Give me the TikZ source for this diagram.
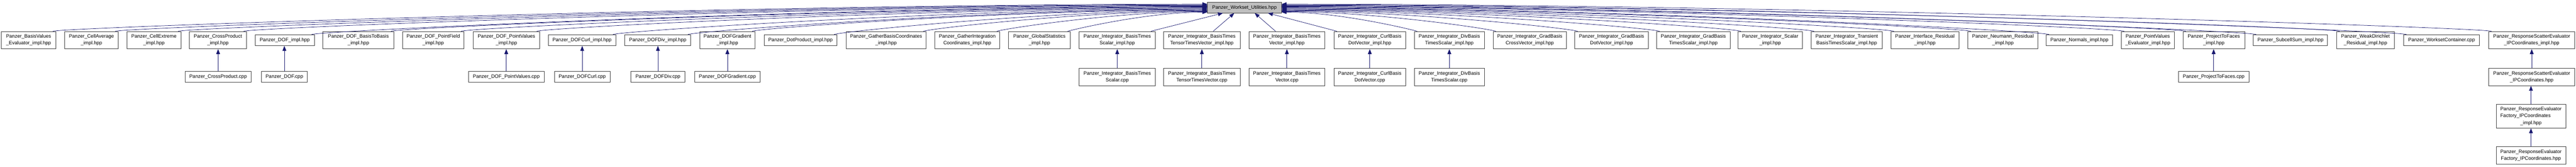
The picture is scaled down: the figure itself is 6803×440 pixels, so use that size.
\documentclass[tikz,border=0pt]{standalone}
\usepackage{fontspec}
\setmainfont{Liberation Sans}
\usetikzlibrary{arrows.meta}
\definecolor{edgeblue}{RGB}{25,25,112}
\definecolor{boxline}{RGB}{64,64,64}
\definecolor{rootfill}{RGB}{191,191,191}
\def\rowA{-106}
\def\rowB{-203}
\def\rowC{-306.5}
\def\rowD{-410.5}
\tikzset{
  filebox/.style={draw=boxline, line width=1.2pt, fill=white, inner sep=0pt,
    align=center, font=\fontsize{13}{18}\selectfont},
  oneline/.style={filebox, minimum height=29},
  twoline/.style={filebox, minimum height=46},
  threeline/.style={filebox, minimum height=63},
  rootbox/.style={filebox, fill=rootfill, minimum height=28},
  incl/.style={draw=edgeblue, line width=1pt, -{Triangle[length=13pt,width=10pt]}},
}

\begin{document}
\begin{tikzpicture}[x=1pt,y=1pt]
    \useasboundingbox (0,0) rectangle (6803,-440);
    \node[rootbox, minimum width=195] (root) at (3286.5,-20) {Panzer\_Workset\_Utilities.hpp};
    % first row, left of the root
    \node[twoline, minimum width=143] (bvEval) at (75.5,\rowA) {Panzer\_BasisValues\\\_Evaluator\_impl.hpp};
    \node[twoline, minimum width=141] (cellAvg) at (241.5,\rowA) {Panzer\_CellAverage\\\_impl.hpp};
    \node[twoline, minimum width=143] (cellExt) at (406.5,\rowA) {Panzer\_CellExtreme\\\_impl.hpp};
    \node[twoline, minimum width=151] (crossProd) at (575.5,\rowA) {Panzer\_CrossProduct\\\_impl.hpp};
    \node[oneline, minimum width=156] (dofImpl) at (752,\rowA) {Panzer\_DOF\_impl.hpp};
    \node[twoline, minimum width=187] (dofB2B) at (946.5,\rowA) {Panzer\_DOF\_BasisToBasis\\\_impl.hpp};
    \node[twoline, minimum width=162] (dofPF) at (1144,\rowA) {Panzer\_DOF\_PointField\\\_impl.hpp};
    \node[twoline, minimum width=175] (dofPV) at (1337.5,\rowA) {Panzer\_DOF\_PointValues\\\_impl.hpp};
    \node[oneline, minimum width=178] (dofCurl) at (1537,\rowA) {Panzer\_DOFCurl\_impl.hpp};
    \node[oneline, minimum width=174] (dofDiv) at (1737,\rowA) {Panzer\_DOFDiv\_impl.hpp};
    \node[twoline, minimum width=146] (dofGrad) at (1921,\rowA) {Panzer\_DOFGradient\\\_impl.hpp};
    \node[oneline, minimum width=192] (dotProd) at (2114,\rowA) {Panzer\_DotProduct\_impl.hpp};
    \node[twoline, minimum width=212] (gatherBasis) at (2340,\rowA) {Panzer\_GatherBasisCoordinates\\\_impl.hpp};
    \node[twoline, minimum width=171] (gatherIP) at (2554.5,\rowA) {Panzer\_GatherIntegration\\Coordinates\_impl.hpp};
    \node[twoline, minimum width=164] (globStat) at (2745,\rowA) {Panzer\_GlobalStatistics\\\_impl.hpp};
    \node[twoline, minimum width=201] (intBTS) at (2950.5,\rowA) {Panzer\_Integrator\_BasisTimes\\Scalar\_impl.hpp};
    \node[twoline, minimum width=202] (intBTTV) at (3174,\rowA) {Panzer\_Integrator\_BasisTimes\\TensorTimesVector\_impl.hpp};
    % first row, right of the root
    \node[twoline, minimum width=201] (intBTV) at (3398.5,\rowA) {Panzer\_Integrator\_BasisTimes\\Vector\_impl.hpp};
    \node[twoline, minimum width=189] (intCBDV) at (3617.5,\rowA) {Panzer\_Integrator\_CurlBasis\\DotVector\_impl.hpp};
    \node[twoline, minimum width=185] (intDBTS) at (3827.5,\rowA) {Panzer\_Integrator\_DivBasis\\TimesScalar\_impl.hpp};
    \node[twoline, minimum width=194] (intGBCV) at (4040,\rowA) {Panzer\_Integrator\_GradBasis\\CrossVector\_impl.hpp};
    \node[twoline, minimum width=194] (intGBDV) at (4256,\rowA) {Panzer\_Integrator\_GradBasis\\DotVector\_impl.hpp};
    \node[twoline, minimum width=194] (intGBTS) at (4472,\rowA) {Panzer\_Integrator\_GradBasis\\TimesScalar\_impl.hpp};
    \node[twoline, minimum width=170] (intScalar) at (4675,\rowA) {Panzer\_Integrator\_Scalar\\\_impl.hpp};
    \node[twoline, minimum width=188] (intTrans) at (4877,\rowA) {Panzer\_Integrator\_Transient\\BasisTimesScalar\_impl.hpp};
    \node[twoline, minimum width=179] (ifaceRes) at (5083.5,\rowA) {Panzer\_Interface\_Residual\\\_impl.hpp};
    \node[twoline, minimum width=185] (neumann) at (5289.5,\rowA) {Panzer\_Neumann\_Residual\\\_impl.hpp};
    \node[oneline, minimum width=175] (normals) at (5491.5,\rowA) {Panzer\_Normals\_impl.hpp};
    \node[twoline, minimum width=140] (pvEval) at (5672,\rowA) {Panzer\_PointValues\\\_Evaluator\_impl.hpp};
    \node[twoline, minimum width=163] (proj) at (5846.5,\rowA) {Panzer\_ProjectToFaces\\\_impl.hpp};
    \node[oneline, minimum width=196] (subcell) at (6049,\rowA) {Panzer\_SubcellSum\_impl.hpp};
    \node[twoline, minimum width=152] (weakDir) at (6247,\rowA) {Panzer\_WeakDirichlet\\\_Residual\_impl.hpp};
    \node[oneline, minimum width=200] (wsCont) at (6448,\rowA) {Panzer\_WorksetContainer.cpp};
    \node[twoline, minimum width=228] (rsIPimpl) at (6686,\rowA) {Panzer\_ResponseScatterEvaluator\\\_IPCoordinates\_impl.hpp};
    % second row
    \node[oneline, minimum width=174] (crossProdCpp) at (576,\rowB) {Panzer\_CrossProduct.cpp};
    \node[oneline, minimum width=122] (dofCpp) at (751,\rowB) {Panzer\_DOF.cpp};
    \node[oneline, minimum width=200] (dofPVCpp) at (1337,\rowB) {Panzer\_DOF\_PointValues.cpp};
    \node[oneline, minimum width=147] (dofCurlCpp) at (1537.5,\rowB) {Panzer\_DOFCurl.cpp};
    \node[oneline, minimum width=143] (dofDivCpp) at (1737.5,\rowB) {Panzer\_DOFDiv.cpp};
    \node[oneline, minimum width=172] (dofGradCpp) at (1921,\rowB) {Panzer\_DOFGradient.cpp};
    \node[twoline, minimum width=201] (intBTSCpp) at (2950.5,\rowB) {Panzer\_Integrator\_BasisTimes\\Scalar.cpp};
    \node[twoline, minimum width=202] (intBTTVCpp) at (3174,\rowB) {Panzer\_Integrator\_BasisTimes\\TensorTimesVector.cpp};
    \node[twoline, minimum width=201] (intBTVCpp) at (3398.5,\rowB) {Panzer\_Integrator\_BasisTimes\\Vector.cpp};
    \node[twoline, minimum width=189] (intCBDVCpp) at (3617.5,\rowB) {Panzer\_Integrator\_CurlBasis\\DotVector.cpp};
    \node[twoline, minimum width=185] (intDBTSCpp) at (3827.5,\rowB) {Panzer\_Integrator\_DivBasis\\TimesScalar.cpp};
    \node[oneline, minimum width=186] (projCpp) at (5846,\rowB) {Panzer\_ProjectToFaces.cpp};
    \node[twoline, minimum width=228] (rsIP) at (6686,\rowB) {Panzer\_ResponseScatterEvaluator\\\_IPCoordinates.hpp};
    % third and fourth rows
    \node[threeline, minimum width=184] (refIPimpl) at (6684,\rowC)
        {\begin{tabular}{@{}l@{}}Panzer\_ResponseEvaluator\\Factory\_IPCoordinates\\\multicolumn{1}{@{}c@{}}{\_impl.hpp}\end{tabular}};
    \node[twoline, minimum width=184] (refIP) at (6684,\rowD) {Panzer\_ResponseEvaluator\\Factory\_IPCoordinates.hpp};

    % curved edges into the sides of the root
    \foreach \n/\o/\k in {bvEval/9/1220, cellAvg/7.5/1154, cellExt/6/1088, crossProd/4.5/1018,
        dofImpl/3/947, dofB2B/1.5/863, dofPF/0/789, dofPV/-1.5/709, dofCurl/-3/628,
        dofDiv/-4.5/549, dofGrad/-6/481, dotProd/-7.5/395, gatherBasis/-9/300,
        gatherIP/-10.5/223, globStat/-12/148}
        \draw[incl] ([xshift=-8]\n.north east) .. controls +(15:40)
            and ([xshift=-\k,yshift=\o]root.west) .. ([yshift=\o]root.west);
    \foreach \n/\o/\k in {intDBTS/-12/144, intGBCV/-10.5/227, intGBDV/-9/313, intGBTS/-7.5/400,
        intScalar/-6/486, intTrans/-4.5/563, ifaceRes/-3/647, neumann/-1.5/728,
        normals/0/811, pvEval/1.5/890, proj/3/956, subcell/4.5/1030, weakDir/6/1118,
        wsCont/7.5/1189, rsIPimpl/9/1278}
        \draw[incl] ([xshift=8]\n.north west) .. controls +(165:40)
            and ([xshift=\k,yshift=\o]root.east) .. ([yshift=\o]root.east);
    % straight edges into the bottom of the root
    \draw[incl] ([xshift=-12]intBTS.north east) -- ([xshift=-57]root.south);
    \draw[incl] ([xshift=30]intBTTV.north) -- ([xshift=-27]root.south);
    \draw[incl] ([xshift=-30]intBTV.north) -- ([xshift=27]root.south);
    \draw[incl] ([xshift=8]intCBDV.north west) -- ([xshift=62]root.south);
    % lower rows
    \foreach \c/\p in {crossProdCpp/crossProd, dofCpp/dofImpl, dofPVCpp/dofPV, dofCurlCpp/dofCurl,
        dofDivCpp/dofDiv, dofGradCpp/dofGrad, intBTSCpp/intBTS, intBTTVCpp/intBTTV,
        intBTVCpp/intBTV, intCBDVCpp/intCBDV, intDBTSCpp/intDBTS, projCpp/proj,
        rsIP/rsIPimpl, refIPimpl/rsIP, refIP/refIPimpl}
        \draw[incl] (\c.north) -- (\c.north |- \p.south);
\end{tikzpicture}
\end{document}
